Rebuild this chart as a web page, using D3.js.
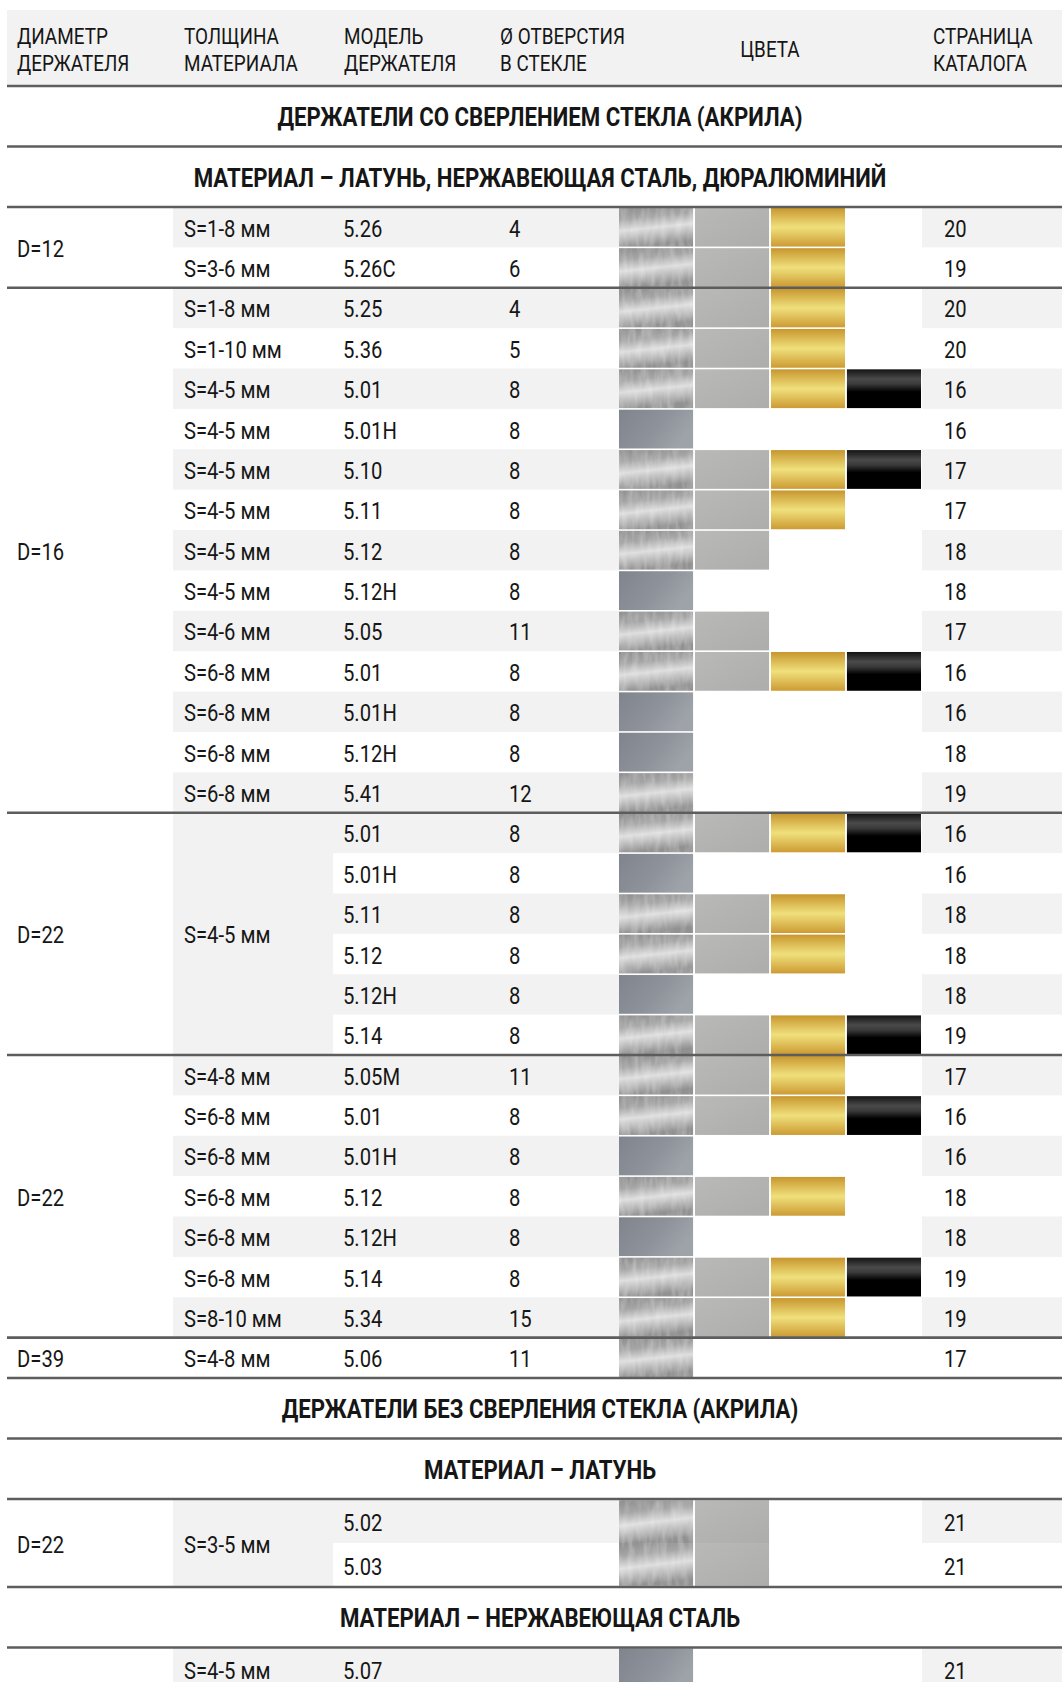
<!DOCTYPE html>
<html>
<head>
<meta charset="utf-8">
<script src="https://cdn.jsdelivr.net/npm/d3@7"></script>
<style>
  body { margin: 0; background: #fff; }
  svg { display: block; font-family: Roboto, "Liberation Sans", sans-serif; }
</style>
</head>
<body>
<svg id="chart" width="1062" height="1682"></svg>
<script>
// column headers (one entry per column, split in lines)
const headers = [
  ["ДИАМЕТР", "ДЕРЖАТЕЛЯ"],
  ["ТОЛЩИНА", "МАТЕРИАЛА"],
  ["МОДЕЛЬ", "ДЕРЖАТЕЛЯ"],
  ["Ø ОТВЕРСТИЯ", "В СТЕКЛЕ"],
  ["ЦВЕТА"],
  ["СТРАНИЦА", "КАТАЛОГА"]
];

// section titles and the groups that follow them
const sectionTitles = [
  ["ДЕРЖАТЕЛИ СО СВЕРЛЕНИЕМ СТЕКЛА (АКРИЛА)", "МАТЕРИАЛ – ЛАТУНЬ, НЕРЖАВЕЮЩАЯ СТАЛЬ, ДЮРАЛЮМИНИЙ"],
  ["ДЕРЖАТЕЛИ БЕЗ СВЕРЛЕНИЯ СТЕКЛА (АКРИЛА)", "МАТЕРИАЛ – ЛАТУНЬ"],
  ["МАТЕРИАЛ – НЕРЖАВЕЮЩАЯ СТАЛЬ"]
];
const sectionGroups = [[0, 1, 2, 3, 4], [5], [6]];

// groups (merged diameter cells)
const groupDiameter = ["D=12", "D=16", "D=22", "D=22", "D=39", "D=22", ""];
const groupThickness = [null, null, "S=4-5 мм", null, null, "S=3-5 мм", null];
const groupFinish = [null, null, null, null, null, "BS", null];
const groupContinues = [false, false, false, false, false, false, true];

// rows
const rowGroup = [0, 0,
  1, 1, 1, 1, 1, 1, 1, 1, 1, 1, 1, 1, 1,
  2, 2, 2, 2, 2, 2,
  3, 3, 3, 3, 3, 3, 3,
  4,
  5, 5,
  6];
const thickness = ["S=1-8 мм", "S=3-6 мм",
  "S=1-8 мм", "S=1-10 мм", "S=4-5 мм", "S=4-5 мм", "S=4-5 мм", "S=4-5 мм", "S=4-5 мм", "S=4-5 мм",
  "S=4-6 мм", "S=6-8 мм", "S=6-8 мм", "S=6-8 мм", "S=6-8 мм",
  "", "", "", "", "", "",
  "S=4-8 мм", "S=6-8 мм", "S=6-8 мм", "S=6-8 мм", "S=6-8 мм", "S=6-8 мм", "S=8-10 мм",
  "S=4-8 мм",
  "", "",
  "S=4-5 мм"];
const models = ["5.26", "5.26C",
  "5.25", "5.36", "5.01", "5.01H", "5.10", "5.11", "5.12", "5.12H", "5.05", "5.01", "5.01H", "5.12H", "5.41",
  "5.01", "5.01H", "5.11", "5.12", "5.12H", "5.14",
  "5.05M", "5.01", "5.01H", "5.12", "5.12H", "5.14", "5.34",
  "5.06",
  "5.02", "5.03",
  "5.07"];
const holes = ["4", "6",
  "4", "5", "8", "8", "8", "8", "8", "8", "11", "8", "8", "8", "12",
  "8", "8", "8", "8", "8", "8",
  "11", "8", "8", "8", "8", "8", "15",
  "11",
  "", "",
  ""];
// B brushed, S satin, G gold, K black, H dark
const finishes = ["BSG", "BSG",
  "BSG", "BSG", "BSGK", "H", "BSGK", "BSG", "BS", "H", "BS", "BSGK", "H", "H", "B",
  "BSGK", "H", "BSG", "BSG", "H", "BSGK",
  "BSG", "BSGK", "H", "BSG", "H", "BSGK", "BSG",
  "B",
  "", "",
  "H"];
const pages = ["20", "19",
  "20", "20", "16", "16", "17", "17", "18", "18", "17", "16", "16", "18", "19",
  "16", "16", "18", "18", "18", "19",
  "17", "16", "16", "18", "18", "19", "19",
  "17",
  "21", "21",
  "21"];

const svg = d3.select("#chart");
const left = 7, right = 1062, midX = 540;
const shade = "#f2f2f2", ink = "#161616", rule = "#5d5d5d";

const col = d3.scaleOrdinal()
  .domain(["d", "s", "m", "h", "c", "p"])
  .range([7, 173, 333, 499, 619, 922]);
const slot = d3.scaleBand().domain(["B", "S", "G", "K"]).range([619, 921]).paddingInner(0.025);

// swatch fills
const defs = svg.append("defs");
function grad(id, stops, x2, y2) {
  const g = defs.append("linearGradient").attr("id", id)
    .attr("x1", 0).attr("y1", 0).attr("x2", x2).attr("y2", y2);
  stops.forEach(s => g.append("stop").attr("offset", s[0]).attr("stop-color", s[1]));
}
grad("gB", [[0, "#8e8e8e"], [0.3, "#a6a6a6"], [0.58, "#dedede"], [0.78, "#bababa"], [1, "#919191"]], 0.2, 1);
grad("gS", [[0, "#b9b9b7"], [1, "#adadab"]], 1, 1);
grad("gG", [[0, "#c8962e"], [0.5, "#efe07c"], [1, "#cd9b33"]], 0, 1);
grad("gK", [[0, "#141414"], [0.25, "#4a4a4a"], [0.38, "#3a3a3a"], [0.58, "#000"], [1, "#000"]], 0, 1);
grad("gH", [[0, "#7f848d"], [0.6, "#8e939b"], [1, "#9ea3aa"]], 1, 0.4);

const brush = defs.append("filter").attr("id", "brush")
  .attr("x", 0).attr("y", 0).attr("width", 1).attr("height", 1);
brush.append("feTurbulence").attr("type", "fractalNoise")
  .attr("baseFrequency", "0.18 0.05").attr("numOctaves", 2).attr("seed", 4).attr("result", "n");
brush.append("feColorMatrix").attr("in", "n").attr("type", "matrix")
  .attr("values", "0 0 0 0 1  0 0 0 0 1  0 0 0 0 1  0.4 0 0 0 -0.14").attr("result", "w");
brush.append("feComposite").attr("in", "w").attr("in2", "SourceGraphic").attr("operator", "in").attr("result", "wc");
const merge = brush.append("feMerge");
merge.append("feMergeNode").attr("in", "SourceGraphic");
merge.append("feMergeNode").attr("in", "wc");

const bg = svg.append("g"), sw = svg.append("g"), tx = svg.append("g"), ln = svg.append("g");

function label(x, y, s, o = {}) {
  tx.append("text")
    .attr("transform", `translate(${x},${y}) scale(${o.sx || 0.88},1)`)
    .attr("text-anchor", o.anchor || "start")
    .attr("font-size", o.size || 23)
    .attr("font-weight", o.weight || 400)
    .attr("fill", ink)
    .text(s);
}
function hline(y) {
  ln.append("line").attr("x1", left).attr("x2", right).attr("y1", y).attr("y2", y)
    .attr("stroke", rule).attr("stroke-width", 2.6);
}
function swatch(code, y, h) {
  const key = code === "H" ? "B" : code;
  sw.append("rect")
    .attr("x", slot(key)).attr("y", y).attr("width", slot.bandwidth()).attr("height", h)
    .attr("fill", `url(#g${code})`)
    .attr("filter", code === "B" ? "url(#brush)" : null);
}

// header
bg.append("rect").attr("x", left).attr("y", 10).attr("width", right - left).attr("height", 76).attr("fill", shade);
const headX = [17, 184, 344, 500, 770, 933];
headers.forEach((lines, i) => {
  if (lines.length === 1) label(headX[i], 57, lines[0], { size: 22, sx: 0.86, anchor: "middle" });
  else lines.forEach((t, k) => label(headX[i], 44 + k * 27, t, { size: 22, sx: 0.86 }));
});
hline(86);

let y = 86;
const titleH = 60.5;
sectionGroups.forEach((groups, si) => {
  sectionTitles[si].forEach(t => {
    label(midX, y + titleH / 2 + 10, t, { size: 26, weight: 700, sx: 0.855, anchor: "middle" });
    y += titleH;
    hline(y);
  });

  const rowH = si === 0 ? 40.38 : 44;
  const rows = d3.range(rowGroup.length).filter(i => groups.includes(rowGroup[i]));
  const yRow = d3.scaleBand().domain(rows).range([y, y + rows.length * rowH]);

  groups.forEach(g => {
    const gr = rows.filter(i => rowGroup[i] === g);
    const top = yRow(gr[0]);
    const bottom = yRow(gr[gr.length - 1]) + rowH;
    const striped = gr.length > 1 || groupContinues[g];

    label(col("d") + 10, (top + bottom) / 2 + 9.5, groupDiameter[g]);
    if (groupThickness[g]) {
      bg.append("rect").attr("x", col("s")).attr("y", top).attr("width", col("m") - col("s"))
        .attr("height", bottom - top).attr("fill", shade);
      label(col("s") + 11, (top + bottom) / 2 + 9.5, groupThickness[g]);
    }

    gr.forEach((i, k) => {
      const ry = yRow(i);
      const cy = ry + rowH / 2 + 9.5;
      if (striped && k % 2 === 0) {
        const x0 = groupThickness[g] ? col("m") : col("s");
        bg.append("rect").attr("x", x0).attr("y", ry).attr("width", col("c") - x0).attr("height", rowH).attr("fill", shade);
        bg.append("rect").attr("x", col("p")).attr("y", ry).attr("width", right - col("p")).attr("height", rowH).attr("fill", shade);
      }
      if (!groupThickness[g]) label(col("s") + 11, cy, thickness[i]);
      label(col("m") + 10, cy, models[i]);
      label(col("h") + 10, cy, holes[i]);
      label(col("p") + 22, cy, pages[i]);

      if (groupFinish[g]) {
        const y0 = k === 0 ? ry + 1.2 : ry;
        const y1 = k === gr.length - 1 ? ry + rowH - 1.2 : ry + rowH;
        groupFinish[g].split("").forEach(c => swatch(c, y0, y1 - y0));
      } else {
        finishes[i].split("").forEach(c => swatch(c, ry + 0.8, rowH - 1.6));
      }
    });
    if (!groupContinues[g]) hline(bottom);
  });
  y += rows.length * rowH;
});
</script>
</body>
</html>
